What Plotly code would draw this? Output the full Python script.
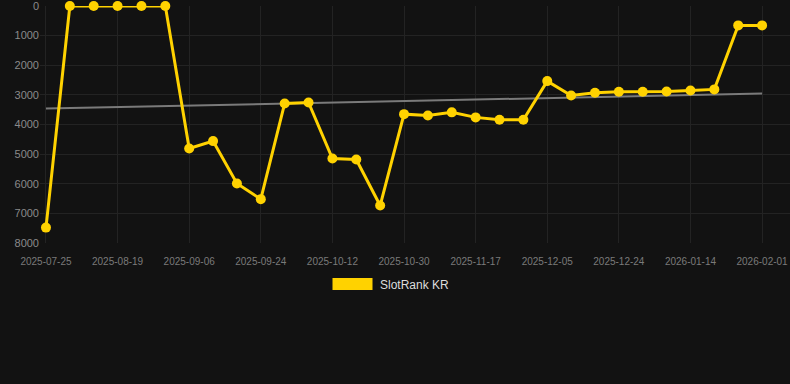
import numpy as np
import plotly.graph_objects as go

dates = [
    "2025-07-25", "2025-08-03", "2025-08-11", "2025-08-19", "2025-08-25", "2025-08-31",
    "2025-09-06", "2025-09-12", "2025-09-18", "2025-09-24", "2025-09-30", "2025-10-06",
    "2025-10-12", "2025-10-18", "2025-10-24", "2025-10-30", "2025-11-05", "2025-11-11",
    "2025-11-17", "2025-11-23", "2025-11-29", "2025-12-05", "2025-12-11", "2025-12-17",
    "2025-12-24", "2025-12-31", "2026-01-07", "2026-01-14", "2026-01-20", "2026-01-26",
    "2026-02-01",
]
rank = [
    7480, 0, 0, 0, 0, 0,
    4810, 4560, 5990, 6520, 3290, 3255,
    5150, 5180, 6735, 3650, 3695, 3590,
    3760, 3840, 3840, 2535, 3020, 2930,
    2895, 2895, 2885, 2850, 2815, 655,
    655,
]
tick_labels = dates[::3]
y_ticks = [0, 1000, 2000, 3000, 4000, 5000, 6000, 7000, 8000]
series_name = "SlotRank KR"

idx = np.arange(len(rank))
slope, intercept = np.polyfit(idx, rank, 1)
trend = [intercept + slope * idx[0], intercept + slope * idx[-1]]

GOLD = "#FFD200"
BG = "#121212"
GRID = "#232323"

fig = go.Figure()
fig.add_trace(go.Scatter(
    x=dates, y=rank, mode="lines+markers", name=series_name,
    line=dict(color=GOLD, width=3),
    marker=dict(color=GOLD, size=10),
    cliponaxis=False, showlegend=False,
))
fig.add_trace(go.Scatter(
    x=[dates[0], dates[-1]], y=trend, mode="lines",
    line=dict(color="#7a7a7a", width=2), showlegend=False, hoverinfo="skip",
))
# keep the gold line on top of the trend line
fig.data = (fig.data[1], fig.data[0])

# legend drawn manually (rectangle swatch + label)
fig.add_shape(type="rect", xref="paper", yref="paper",
              x0=(332.5 - 40) / 750, x1=(372.5 - 40) / 750,
              y0=(243 - 278) / 237, y1=(243 - 290) / 237,
              fillcolor=GOLD, line=dict(width=0))
fig.add_annotation(xref="paper", yref="paper",
                   x=(378 - 40) / 750, y=(243 - 285) / 237,
                   text=series_name, showarrow=False,
                   xanchor="left", yanchor="middle",
                   font=dict(color="#dddddd", size=12, family="Liberation Sans, Arial, sans-serif"))

fig.update_layout(
    width=790, height=384,
    paper_bgcolor=BG, plot_bgcolor=BG,
    margin=dict(l=40, r=0, t=6, b=141),
    font=dict(family="Liberation Sans, Arial, sans-serif", color="#8a8a8a"),
    showlegend=False,
)
fig.update_xaxes(
    type="category", categoryorder="array", categoryarray=dates,
    range=[-0.25, 31.17],
    tickmode="array", tickvals=tick_labels, ticktext=tick_labels,
    tickfont=dict(size=10, color="#7a7a7a"),
    showgrid=True, gridcolor=GRID, gridwidth=1,
    zeroline=False, showline=False,
    ticks="outside", ticklen=9, tickcolor="rgba(0,0,0,0)",
)
fig.update_yaxes(
    range=[8000, 0], autorange=False,
    tickmode="array", tickvals=y_ticks,
    tickfont=dict(size=11, color="#8a8a8a"),
    showgrid=True, gridcolor=GRID, gridwidth=1,
    zeroline=False, showline=False, ticks="", ticklen=0,
    ticklabeloverflow="allow",
)

fig.write_html(
    "out.html",
    config={"displayModeBar": False},
    post_script="document.body.style.margin='0';document.body.style.background='#121212';",
)
